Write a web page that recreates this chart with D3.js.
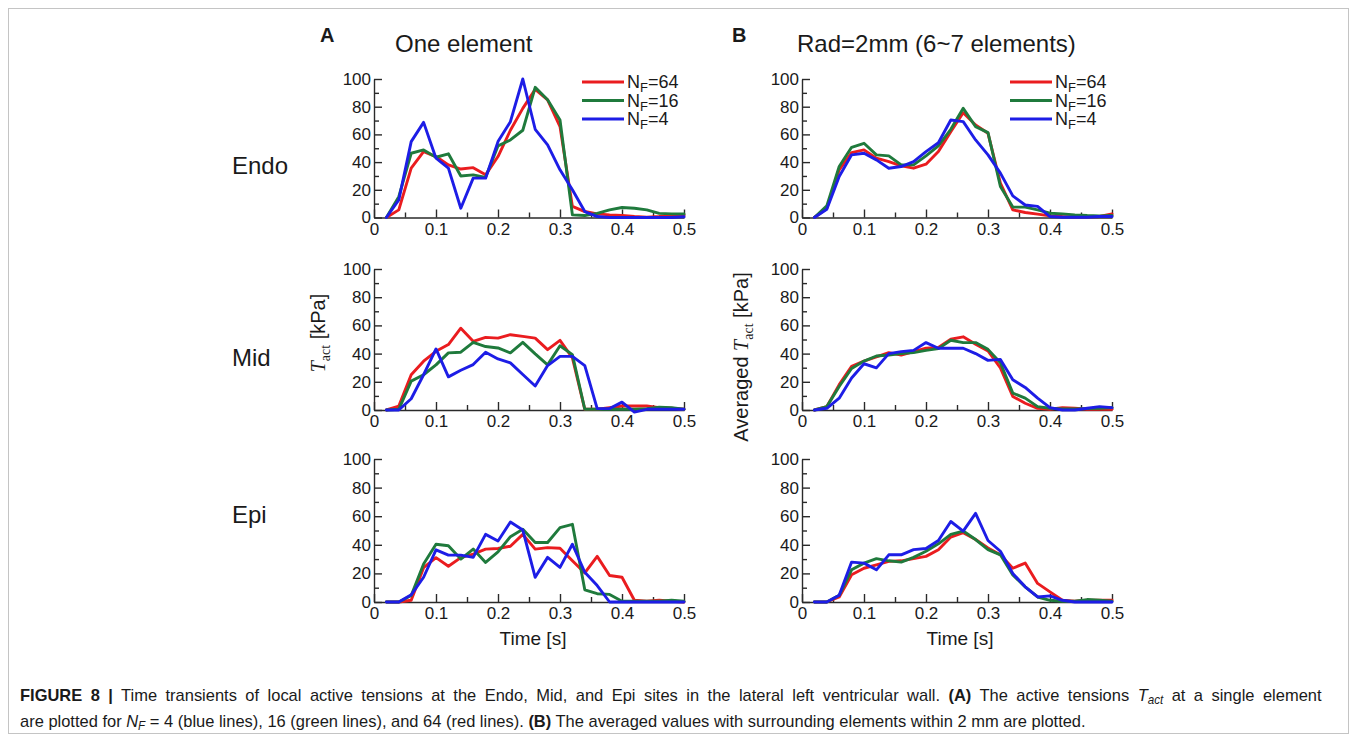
<!DOCTYPE html>
<html>
<head>
<meta charset="utf-8">
<script src="https://cdn.jsdelivr.net/npm/d3@7"></script>
<style>
  body { margin: 0; background: #fff; }
  svg text { font-family: "Liberation Sans", Arial, sans-serif; fill: #1a1a1a; }
</style>
</head>
<body>
<svg id="fig" width="1357" height="742"></svg>
<script>
// Sampling instants [s]
const time = [0.02,0.04,0.06,0.08,0.10,0.12,0.14,0.16,0.18,0.20,0.22,0.24,0.26,0.28,0.30,0.32,0.34,0.36,0.38,0.40,0.42,0.44,0.46,0.48,0.50];

// Series keys (number of fibres N_F) and their colours
const nfLevels = ["64", "16", "4"];
const nfColors = { "64": "#ea1c1f", "16": "#1f7a3c", "4": "#1d1de6" };

// Axis ticks
const yMajorTicks = [0, 20, 40, 60, 80, 100];
const yMinorTicks = [10, 30, 50, 70, 90];
const xMajorTicks = [0, 0.1, 0.2, 0.3, 0.4, 0.5];
const xMinorTicks = [0.05, 0.15, 0.25, 0.35, 0.45];

// Row and column labels
const rowNames = ["Endo", "Mid", "Epi"];
const columnTitles = ["One element", "Rad=2mm (6~7 elements)"];
const columnLetters = ["A", "B"];

// (A) single element, T_act [kPa]
const endoOne64 = [0,5.5,35.6,47.6,44,38,35,36,30.8,44,63,78.8,92.5,85,65.6,8,4.3,2.6,1.9,1.4,0.7,0.2,0.7,1.4,1.9];
const endoOne16 = [0,15,46.4,48.8,43.5,46,30,30.8,29,51.7,56,63,94,85,70.4,1.9,1.4,3,5.5,7.2,6.7,5.5,3,2.6,2.6];
const endoOne4  = [0,12.7,54.8,68.7,42.8,35.6,6.7,28.4,28.4,54.8,69.2,100,63.7,52.4,34.4,20,4.3,0.7,0,0,0,0,0,0,0.5];

const midOne64 = [0,2.8,25,34.6,41.6,46.4,58,48.7,51.5,51,53.4,52.2,51,42.8,49.4,37,0.5,0.5,1.6,2.8,2.8,2.8,1.6,1.2,0.5];
const midOne16 = [0,0.5,20.5,25,32,40.5,41,48,45,44,40.5,48,39.8,32,45.6,39.3,0.5,0.5,0.5,0.5,0.5,1,2,1.6,0.5];
const midOne4  = [0,0,8,25,43.3,23.5,28.2,32.2,41,36.2,33.4,25.2,17,31.5,38,38,31.5,1,1,5.6,-1.5,0.5,0.5,0.5,0.5];

const epiOne64 = [0,0,1.2,24,31,25,31,33.5,37,37.4,39,47.3,37,38,37.6,28.9,20.3,31.9,18.5,17.3,1.2,0.5,1.2,0.5,0];
const epiOne16 = [0,0,4.6,26.6,40.4,39.3,30,37,27.7,35,45.7,50.8,41.6,41.6,52,54.3,8.5,5.8,5.3,0.5,0.5,0.5,0.5,1.2,0.5];
const epiOne4  = [0,0,5,17.3,36.5,32.8,32.8,31.2,47.3,42.7,55.9,50.3,17.3,31.2,24.2,40.4,20.8,11.5,0,0,0,0,0,0,0];

// (B) averaged over 2 mm radius, T_act [kPa]
const endoAvg64 = [0,6.7,34.4,46.9,48.8,42.8,40.4,37.3,35.6,38.5,47.6,62,75.7,66.8,60.8,24.8,5.5,3.6,2.4,1.2,0.7,0.5,0.5,0.7,2.6];
const endoAvg16 = [0,8.4,36.8,50.7,53.6,45.2,44.5,38,38,44.5,51.7,63.7,78.8,65.6,61.3,22.4,7.5,7.5,5.5,3.1,2.6,1.9,1.4,1.2,1.4];
const endoAvg4  = [0,6,29.6,45.2,46.4,41.6,35.6,36.8,40.4,47.6,54,70.4,69.2,56,45.2,32,15.6,9,8,0.7,0.2,0.2,0.2,0.7,0.7];

const midAvg64 = [0,2.4,18,31,34.7,37.6,40.7,39,41.4,43.8,44.3,50.2,51.9,46.7,41.9,29.9,9.6,4.8,1.2,0.5,1.7,1.2,0.5,0.5,0.5];
const midAvg16 = [0,2.4,16.7,29.4,34.7,38.3,39,40,40.7,42.3,43.5,49.5,47.8,47.8,43,33.5,12,8.4,2.4,1.2,0.8,0.8,1,1.2,1.7];
const midAvg4  = [0,1.2,8.4,22.7,32.8,29.9,40,41.4,42.3,47.8,43.8,43.8,43.8,40,35.2,35.9,21.5,16,8.4,1.7,0,0,1.2,2.4,1.7];

const epiAvg64 = [0,0,3.5,19,23.6,26,28.4,28.8,30.3,31.9,36.6,45.4,48.5,43.7,37.8,33,23.6,27.2,13,7.1,1.2,0.5,1.2,1.2,1.2];
const epiAvg16 = [0,0,4.7,22.5,27.2,30.3,28.8,27.9,31.2,35.5,40.7,47.3,49.6,43.7,36.6,33,18.9,10.6,3.5,1.2,0.5,0.5,1.7,1.2,0.5];
const epiAvg4  = [0,0,4.7,27.9,27.2,22.5,33,33,36.6,37.4,43,56.3,49.6,62,43,35.5,20,10.6,3.5,4.3,1.2,0,0,0,0];

const panelData = [
  [ { "64": endoOne64, "16": endoOne16, "4": endoOne4 },
    { "64": midOne64,  "16": midOne16,  "4": midOne4 },
    { "64": epiOne64,  "16": epiOne16,  "4": epiOne4 } ],
  [ { "64": endoAvg64, "16": endoAvg16, "4": endoAvg4 },
    { "64": midAvg64,  "16": midAvg16,  "4": midAvg4 },
    { "64": epiAvg64,  "16": epiAvg16,  "4": epiAvg4 } ]
];

// ---- layout ----
const colRange = [[374, 684], [802, 1112]];
const rowRange = [[79, 217.5], [269, 410], [459, 602]];

const svg = d3.select("#fig");

// outer frame
svg.append("rect")
  .attr("x", 8.5).attr("y", 8.5).attr("width", 1340).attr("height", 725)
  .attr("fill", "none").attr("stroke", "#c4c4c4").attr("stroke-width", 1);

const axisColor = "#2a2a2a";

function styleAxis(g) {
  g.selectAll("path.domain").attr("stroke", axisColor).attr("stroke-width", 1.4);
  g.selectAll(".tick line").attr("stroke", axisColor).attr("stroke-width", 1.4);
  g.selectAll(".tick text").attr("fill", "#1a1a1a").style("font-size", "17px");
}

panelData.forEach((col, ci) => {
  col.forEach((series, ri) => {
    const x = d3.scaleLinear().domain([0, 0.5]).range(colRange[ci]);
    const y = d3.scaleLinear().domain([0, 100]).range([rowRange[ri][1], rowRange[ri][0]]);
    const g = svg.append("g");

    // minor ticks
    g.append("g").attr("transform", `translate(${x(0)},0)`)
      .call(d3.axisLeft(y).tickValues(yMinorTicks).tickSizeInner(-5).tickSizeOuter(0).tickFormat(""))
      .call(a => a.select("path.domain").remove())
      .call(styleAxis);
    g.append("g").attr("transform", `translate(0,${y(0)})`)
      .call(d3.axisBottom(x).tickValues(xMinorTicks).tickSizeInner(-5).tickSizeOuter(0).tickFormat(""))
      .call(a => a.select("path.domain").remove())
      .call(styleAxis);

    // major axes
    g.append("g").attr("transform", `translate(${x(0)},0)`)
      .call(d3.axisLeft(y).tickValues(yMajorTicks).tickSizeInner(-8).tickSizeOuter(0).tickPadding(3))
      .call(styleAxis);
    g.append("g").attr("transform", `translate(0,${y(0)})`)
      .call(d3.axisBottom(x).tickValues(xMajorTicks).tickSizeInner(-8).tickSizeOuter(0).tickPadding(5)
        .tickFormat(d => d === 0 ? "0" : d3.format(".1f")(d)))
      .call(styleAxis);

    // curves
    const line = d3.line().x((d, i) => x(time[i])).y(d => y(d));
    nfLevels.forEach(k => {
      g.append("path")
        .datum(series[k])
        .attr("d", line)
        .attr("fill", "none")
        .attr("stroke", nfColors[k])
        .attr("stroke-width", 2.9)
        .attr("stroke-linejoin", "round")
        .attr("stroke-linecap", "round");
    });

    // legend on the top row
    if (ri === 0) {
      const lx = x(0) + 208;
      nfLevels.forEach((k, i) => {
        const ly = y(100) + 3 + i * 18.5;
        g.append("line")
          .attr("x1", lx).attr("x2", lx + 42).attr("y1", ly).attr("y2", ly)
          .attr("stroke", nfColors[k]).attr("stroke-width", 2.9);
        const t = g.append("text").attr("x", lx + 45).attr("y", ly + 6).style("font-size", "18px");
        t.append("tspan").text("N");
        t.append("tspan").attr("dy", 4).style("font-size", "13px").text("F");
        t.append("tspan").attr("dy", -4).text("=" + k);
      });
    }
  });
});

// row labels
const rowLabelY = [174, 366, 523];
rowNames.forEach((name, i) => {
  svg.append("text").attr("x", 232).attr("y", rowLabelY[i])
    .style("font-size", "24px").text(name);
});

// column letters and titles
const letterX = [320, 732];
const titleX = [395, 797];
columnLetters.forEach((L, i) => {
  svg.append("text").attr("x", letterX[i]).attr("y", 42)
    .style("font-size", "20px").style("font-weight", "bold").text(L);
  svg.append("text").attr("x", titleX[i]).attr("y", 52)
    .style("font-size", "24px").text(columnTitles[i]);
});

// y-axis titles
function yTitle(cx, cy, prefix) {
  const t = svg.append("text")
    .attr("transform", `translate(${cx},${cy}) rotate(-90)`)
    .attr("text-anchor", "middle")
    .style("font-size", "20px");
  if (prefix) t.append("tspan").text(prefix);
  t.append("tspan").style("font-family", "'Liberation Serif', 'Times New Roman', serif")
    .style("font-style", "italic").text("T");
  t.append("tspan").attr("dy", 5).style("font-family", "'Liberation Serif', 'Times New Roman', serif")
    .style("font-size", "14px").text("act");
  t.append("tspan").attr("dy", -5).text(" [kPa]");
}
yTitle(325, 333, null);
yTitle(748, 357, "Averaged ");

// x-axis titles
[[533, 645], [960, 645]].forEach(([cx, cy]) => {
  svg.append("text").attr("x", cx).attr("y", cy).attr("text-anchor", "middle")
    .style("font-size", "19px").text("Time [s]");
});

// caption: condensed face, first line justified to the frame width, last line ragged
function captionLine(y, build) {
  const t = svg.append("text").attr("x", 0).attr("y", 0)
    .style("font-size", "17px").attr("fill", "#222");
  build(t);
  return t;
}
const cap1 = captionLine(701, t => {
  t.append("tspan").style("font-weight", "bold").text("FIGURE 8 |");
  t.append("tspan").text(" Time transients of local active tensions at the Endo, Mid, and Epi sites in the lateral left ventricular wall. ");
  t.append("tspan").style("font-weight", "bold").text("(A)");
  t.append("tspan").text(" The active tensions ");
  t.append("tspan").style("font-style", "italic").text("T");
  t.append("tspan").style("font-style", "italic").style("font-size", "12px").attr("dy", 3).text("act");
  t.append("tspan").attr("dy", -3).text(" at a single element");
});
const cap2 = captionLine(727, t => {
  t.append("tspan").text("are plotted for ");
  t.append("tspan").style("font-style", "italic").text("N");
  t.append("tspan").style("font-style", "italic").style("font-size", "12px").attr("dy", 3).text("F");
  t.append("tspan").attr("dy", -3).text(" = 4 (blue lines), 16 (green lines), and 64 (red lines). ");
  t.append("tspan").style("font-weight", "bold").text("(B)");
  t.append("tspan").text(" The averaged values with surrounding elements within 2 mm are plotted.");
});
const squeeze = 1066 / cap2.node().getComputedTextLength();
cap2.attr("transform", `translate(20,727) scale(${squeeze},1)`);
const natural1 = cap1.node().getComputedTextLength();
const gaps1 = (cap1.text().match(/ /g) || []).length;
cap1.style("word-spacing", `${(1302 / squeeze - natural1) / gaps1}px`)
  .attr("transform", `translate(20,701) scale(${squeeze},1)`);
</script>
</body>
</html>
